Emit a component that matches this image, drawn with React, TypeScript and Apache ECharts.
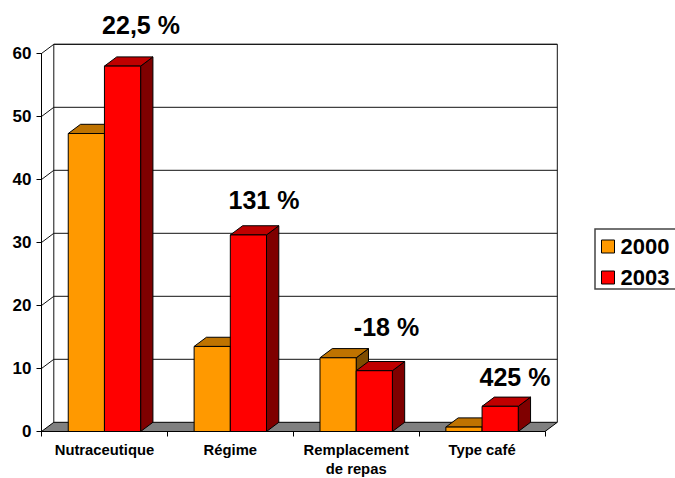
import React, { useEffect, useRef } from "react";
import * as echarts from "echarts";

const categories = ["Nutraceutique", "Régime", "Remplacement\nde repas", "Type café"];
const values2000 = [47.3, 13.5, 11.7, 0.7];
const values2003 = [58, 31.2, 9.65, 4];
const yTicks = [0, 10, 20, 30, 40, 50, 60];
const changeLabels = ["22,5 %", "131 %", "-18 %", "425 %"];

const FONT = "'Liberation Sans', Arial, sans-serif";
const DX = 12.3;
const DY = -9.2;
const W = 675;
const H = 478;
const GRID = { left: 41.5, right: 130, top: 53.5, bottom: 45.5 };

const box3d = (api: any, side: number, colors: string[]) => {
  const c = api.coord([api.value(0), api.value(1)]);
  const base = api.coord([api.value(0), 0]);
  const bw = api.size([1, 0])[0] * 0.2875;
  const x0 = side < 0 ? c[0] - bw : c[0];
  const x1 = x0 + bw;
  const yt = c[1];
  const yb = base[1];
  const stroke = { stroke: "#000", lineWidth: 1 };
  return {
    type: "group",
    children: [
      {
        type: "polygon",
        shape: { points: [[x1, yt], [x1 + DX, yt + DY], [x1 + DX, yb + DY], [x1, yb]] },
        style: { fill: colors[2], ...stroke },
      },
      {
        type: "polygon",
        shape: { points: [[x0, yt], [x0 + DX, yt + DY], [x1 + DX, yt + DY], [x1, yt]] },
        style: { fill: colors[1], ...stroke },
      },
      {
        type: "rect",
        shape: { x: x0, y: yt, width: bw, height: yb - yt },
        style: { fill: colors[0], ...stroke },
      },
    ],
  };
};

const wallItem = (_p: any, api: any) => {
  const v = api.value(0);
  const p = api.coord([0, v]);
  const xl = GRID.left;
  const xr = W - GRID.right;
  const y = p[1];
  const base = api.coord([0, 0])[1];
  const top = api.coord([0, yTicks[yTicks.length - 1]])[1];
  const line = { stroke: "#111", lineWidth: 1, fill: "none" };
  const children: any[] = [];
  if (v === 0) {
    children.push(
      {
        type: "polygon",
        shape: { points: [[xl, base], [xl + DX, base + DY], [xr + DX, base + DY], [xr, base]] },
        style: { fill: "#808080", stroke: "#000", lineWidth: 1 },
      },
      {
        type: "polyline",
        shape: { points: [[xl + DX, base + DY], [xl + DX, top + DY], [xr + DX, top + DY], [xr + DX, base + DY]] },
        style: line,
      },
    );
  } else {
    children.push({
      type: "polyline",
      shape: { points: [[xl, y], [xl + DX, y + DY], [xr + DX, y + DY]] },
      style: line,
    });
  }
  return { type: "group", children };
};

const labelStyle = (text: string, cx: number, cy: number) => ({
  type: "text",
  x: cx,
  y: cy,
  z: 50,
  style: {
    text,
    fill: "#000",
    font: `bold 25px ${FONT}`,
    textAlign: "center",
    textVerticalAlign: "middle",
  },
});

export default function App() {
  const ref = useRef<HTMLDivElement>(null);
  useEffect(() => {
    const chart = echarts.init(ref.current!, undefined, { renderer: "svg" });
    chart.setOption({
      animation: false,
      backgroundColor: "#fff",
      textStyle: { fontFamily: FONT },
      grid: GRID,
      legend: {
        orient: "vertical",
        left: 595,
        top: 229,
        padding: [6.5, 30, 0.5, 6],
        itemWidth: 13,
        itemHeight: 13,
        itemGap: 9,
        borderColor: "#444",
        borderWidth: 1.5,
        backgroundColor: "#fff",
        textStyle: { fontFamily: FONT, fontWeight: "bold", fontSize: 22, color: "#000", padding: [0, 0, 0, 1] },
        data: [
          { name: "2000", icon: "rect", itemStyle: { color: "#FF9900", borderColor: "#000", borderWidth: 1 } },
          { name: "2003", icon: "rect", itemStyle: { color: "#FF0000", borderColor: "#000", borderWidth: 1 } },
        ],
      },
      xAxis: {
        type: "category",
        data: categories,
        boundaryGap: true,
        axisLine: { show: true, lineStyle: { color: "#000", width: 1 } },
        axisTick: { show: true, alignWithLabel: false, length: 5, lineStyle: { color: "#000" } },
        axisLabel: {
          interval: 0,
          color: "#000",
          fontFamily: FONT,
          fontWeight: "bold",
          fontSize: 14.8,
          lineHeight: 19,
          margin: 8.5,
        },
        z: 10,
      },
      yAxis: {
        type: "value",
        min: 0,
        max: 60,
        interval: 10,
        axisLine: { show: true, lineStyle: { color: "#000", width: 1 } },
        axisTick: { show: true, length: 5, lineStyle: { color: "#000" } },
        axisLabel: { color: "#000", fontFamily: FONT, fontWeight: "bold", fontSize: 17, margin: 10 },
        splitLine: { show: false },
        z: 10,
      },
      series: [
        {
          type: "custom",
          name: "walls",
          coordinateSystem: "cartesian2d",
          clip: false,
          silent: true,
          z: 1,
          data: yTicks.map((t) => [t]),
          encode: { y: 0 },
          renderItem: wallItem,
        },
        {
          type: "custom",
          name: "2000",
          coordinateSystem: "cartesian2d",
          clip: false,
          z: 3,
          itemStyle: { color: "#FF9900" },
          data: values2000.map((v, i) => [i, v]),
          encode: { x: 0, y: 1 },
          renderItem: (_p: any, api: any) => box3d(api, -1, ["#FF9900", "#BF7300", "#7F4D00"]),
        },
        {
          type: "custom",
          name: "2003",
          coordinateSystem: "cartesian2d",
          clip: false,
          z: 4,
          itemStyle: { color: "#FF0000" },
          data: values2003.map((v, i) => [i, v]),
          encode: { x: 0, y: 1 },
          renderItem: (_p: any, api: any) => box3d(api, 1, ["#FF0000", "#BF0000", "#7F0000"]),
        },
      ],
      graphic: {
        elements: [
          labelStyle(changeLabels[0], 141, 24.5),
          labelStyle(changeLabels[1], 264, 200),
          labelStyle(changeLabels[2], 386.5, 326.5),
          labelStyle(changeLabels[3], 515, 376.5),
        ],
      },
    });
    return () => chart.dispose();
  }, []);
  return (
    <div
      ref={ref}
      style={{ position: "absolute", left: 0, top: 0, width: W, height: H, overflow: "hidden" }}
    />
  );
}
